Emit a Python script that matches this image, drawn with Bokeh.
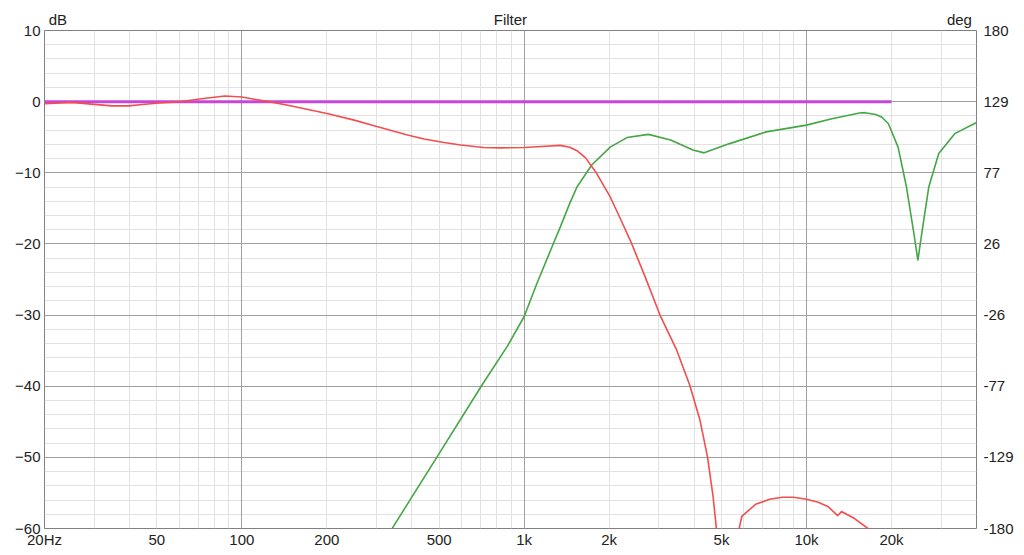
import numpy as np

from bokeh.plotting import figure
from bokeh.models import Range1d, LinearAxis, LogAxis, FixedTicker, Grid
from bokeh.embed import file_html
from bokeh.resources import INLINE

# low-pass branch (dB); None marks the gap where it drops out of the chart
red_f = [20, 25, 30, 34.6, 39.7, 44.4, 51, 61, 72, 87, 100, 112, 125, 150,
         202, 250, 294, 386, 442, 520, 596, 718, 826, 1000, 1150, 1343, 1450,
         1538, 1650, 1800, 2017, 2200, 2405, 2680, 3027, 3467, 3862, 4190,
         4458, 4667, 4798, 4900, None, 5500, 5700, 5900, 6600, 7400, 8200,
         9000, 10000, 11000, 11900, 12900, 13300, 14800, 16500, 17500]
red_db = [-0.3, -0.1, -0.38, -0.6, -0.6, -0.4, -0.2, 0.0, 0.4, 0.8, 0.65,
          0.3, 0.0, -0.6, -1.7, -2.6, -3.4, -4.7, -5.25, -5.75, -6.1, -6.45,
          -6.5, -6.45, -6.3, -6.15, -6.4, -6.9, -7.9, -10.0, -13.4, -16.6,
          -20.0, -24.6, -30.0, -34.9, -39.9, -44.7, -49.9, -55.5, -60.1, -63,
          None, -66, -61, -58.3, -56.6, -55.9, -55.6, -55.6, -55.9, -56.3,
          -56.9, -58.2, -57.6, -58.6, -60.0, -61.0]

# high-pass branch (dB)
green_f = [330, 343, 494, 710, 871, 1000, 1111, 1160, 1270, 1343, 1450,
           1538, 1735, 2017, 2312, 2753, 3300, 3960, 4340, 5340, 7200, 10000,
           12300, 15400, 16100, 17600, 18500, 19500, 21100, 22600, 24000,
           24800, 25600, 27100, 29400, 33500, 39700, 40000]
green_db = [-61.5, -59.8, -49.8, -39.8, -34.4, -30.2, -25.5, -23.7, -19.9,
            -17.6, -14.3, -12.0, -8.9, -6.4, -5.05, -4.6, -5.4, -6.8, -7.2,
            -5.9, -4.25, -3.3, -2.4, -1.6, -1.55, -1.8, -2.2, -3.1, -6.4,
            -12.0, -18.5, -22.3, -18.5, -12.0, -7.3, -4.5, -3.0, -2.95]

# summed / reference line (dB)
sum_f = [20, 20000]
sum_db = [0, 0]

x_ticks = [20, 50, 100, 200, 500, 1000, 2000, 5000, 10000, 20000]
x_labels = ["20Hz", "50", "100", "200", "500", "1k", "2k", "5k", "10k", "20k"]
db_ticks = [10, 0, -10, -20, -30, -40, -50, -60]

FONT = "Liberation Sans"
TEXT = "#222222"

p = figure(width=1016, height=550, x_axis_type="log",
           x_range=Range1d(20, 40000), y_range=Range1d(-60, 10),
           output_backend="svg", toolbar_location=None,
           min_border_left=44, min_border_right=40, min_border_top=30,
           min_border_bottom=21)

p.outline_line_color = "#808080"
p.outline_line_width = 1

# grids: decades / 10 dB darker, the rest light
p.xgrid.visible = False
p.ygrid.visible = False
minor_x = [m * 10 ** e for e in range(1, 5) for m in range(2, 10)
           if 20 <= m * 10 ** e <= 40000]
minor_y = [v for v in range(-60, 11, 2) if v % 10 != 0]
p.add_layout(Grid(dimension=0, ticker=FixedTicker(ticks=minor_x),
                  grid_line_color="#e2e2e2", grid_line_width=1))
p.add_layout(Grid(dimension=1, ticker=FixedTicker(ticks=minor_y),
                  grid_line_color="#e2e2e2", grid_line_width=1))
p.add_layout(Grid(dimension=0, ticker=FixedTicker(ticks=[100, 1000, 10000]),
                  grid_line_color="#a0a0a0", grid_line_width=1))
p.add_layout(Grid(dimension=1, ticker=FixedTicker(ticks=db_ticks),
                  grid_line_color="#a0a0a0", grid_line_width=1))


def plain(ax, standoff):
    ax.axis_line_color = None
    ax.major_tick_line_color = None
    ax.minor_tick_line_color = None
    ax.major_tick_out = 0
    ax.minor_tick_out = 0
    ax.major_label_standoff = standoff
    ax.major_label_text_font = FONT
    ax.major_label_text_font_size = "15px"
    ax.major_label_text_color = TEXT


plain(p.xaxis[0], 2)
plain(p.yaxis[0], 4)
p.xaxis.ticker = FixedTicker(ticks=x_ticks)
p.xaxis.major_label_overrides = dict(zip(x_ticks, x_labels))
p.yaxis.ticker = FixedTicker(ticks=db_ticks)

# right axis in degrees, same gridlines as the dB axis
p.extra_y_ranges = {"deg": Range1d(-180, 180)}
deg_ticks = [(d + 25) * 360 / 70 for d in db_ticks]
deg_axis = LinearAxis(y_range_name="deg", ticker=FixedTicker(ticks=deg_ticks))
plain(deg_axis, 7)
deg_axis.major_label_overrides = {t: str(int(round(t))) for t in deg_ticks}
p.add_layout(deg_axis, "right")

# top strip: unit names and title as labels of an axis above the frame
top_pos = [22.3, 894, 34800]
top_axis = LogAxis(ticker=FixedTicker(ticks=top_pos))
plain(top_axis, 3)
top_axis.major_label_overrides = dict(zip(top_pos, ["dB", "Filter", "deg"]))
p.add_layout(top_axis, "above")

rf = np.array([np.nan if v is None else v for v in red_f], dtype=float)
rd = np.array([np.nan if v is None else v for v in red_db], dtype=float)

p.line(sum_f, sum_db, line_color="#c845dc", line_width=3)
p.line(green_f, green_db, line_color="#45a645", line_width=1.6)
p.line(rf, rd, line_color="#f24e4e", line_width=1.6)

open("out.html", "w").write(file_html(p, INLINE))
